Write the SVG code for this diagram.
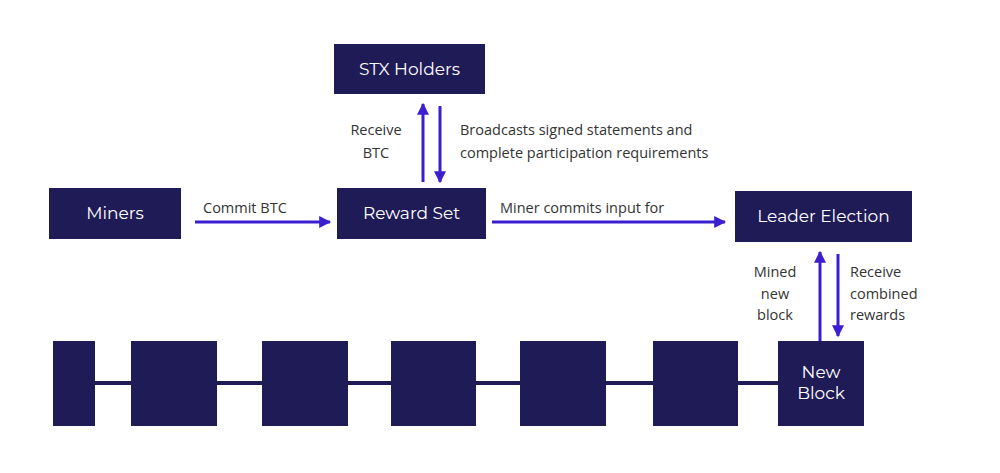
<svg xmlns="http://www.w3.org/2000/svg" width="1000" height="473" viewBox="0 0 1000 473">
<style>
.n{fill:#1f1b56}
.t{font-family:"Montserrat","Open Sans",sans-serif;fill:#fff;font-size:17px;text-anchor:middle}
.l{font-family:"Open Sans",sans-serif;fill:#333;font-size:14.5px}
.a{stroke:#3a1fd0;stroke-width:3;fill:none;marker-end:url(#h)}
</style>
<defs><marker id="h" viewBox="0 0 10 10" refX="9" refY="5" markerWidth="4" markerHeight="4" orient="auto"><path d="M0,0L10,5L0,10z" fill="#3a1fd0"/></marker></defs>
<rect width="1000" height="473" fill="#fff"/>
<g id="connectors">
<line x1="95" y1="383" x2="778" y2="383" stroke="#1f1b56" stroke-width="4"/>
<line class="a" x1="195" y1="222" x2="330" y2="222"/>
<line class="a" x1="492" y1="222" x2="725" y2="222"/>
<line class="a" x1="423" y1="182" x2="423" y2="104"/>
<line class="a" x1="440" y1="106" x2="440" y2="182"/>
<line class="a" x1="820" y1="345" x2="820" y2="252"/>
<line class="a" x1="838" y1="254" x2="838" y2="336"/>
<text class="l" x="203" y="213">Commit BTC</text>
<text class="l" x="500" y="213">Miner commits input for</text>
<text class="l" x="376" y="135" text-anchor="middle">Receive</text>
<text class="l" x="376" y="158" text-anchor="middle">BTC</text>
<text class="l" x="460" y="135">Broadcasts signed statements and</text>
<text class="l" x="460" y="158">complete participation requirements</text>
<text class="l" x="775" y="277" text-anchor="middle">Mined</text>
<text class="l" x="775" y="299" text-anchor="middle">new</text>
<text class="l" x="775" y="320" text-anchor="middle">block</text>
<text class="l" x="850" y="277">Receive</text>
<text class="l" x="850" y="299">combined</text>
<text class="l" x="850" y="320">rewards</text>
</g>
<g id="stx"><rect class="n" x="334" y="44" width="151" height="50"/><text class="t" x="409.5" y="75">STX Holders</text></g>
<g id="miners"><rect class="n" x="49" y="188" width="132" height="51"/><text class="t" x="115" y="219">Miners</text></g>
<g id="reward"><rect class="n" x="337" y="188" width="149" height="51"/><text class="t" x="411.5" y="219">Reward Set</text></g>
<g id="leader"><rect class="n" x="735" y="191" width="177" height="51"/><text class="t" x="823.5" y="222">Leader Election</text></g>
<g id="b0"><rect class="n" x="53" y="341" width="42" height="85"/></g>
<g id="b1"><rect class="n" x="131" y="341" width="86" height="85"/></g>
<g id="b2"><rect class="n" x="262" y="341" width="86" height="85"/></g>
<g id="b3"><rect class="n" x="391" y="341" width="85" height="85"/></g>
<g id="b4"><rect class="n" x="520" y="341" width="86" height="85"/></g>
<g id="b5"><rect class="n" x="653" y="341" width="85" height="85"/></g>
<g id="newblock"><rect class="n" x="778" y="341" width="86" height="85"/><text class="t" x="821" y="378" font-size="15">New</text><text class="t" x="821" y="399" font-size="15">Block</text></g>
</svg>
